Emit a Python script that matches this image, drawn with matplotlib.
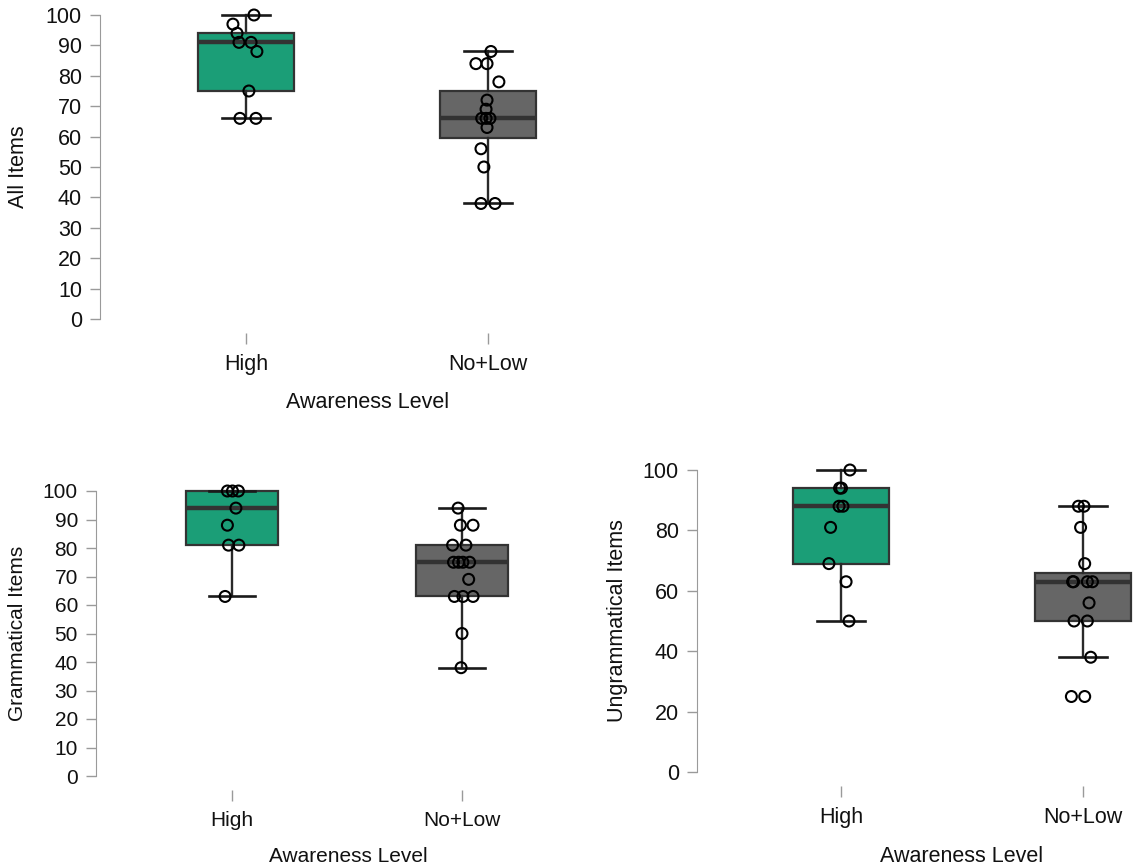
import matplotlib
matplotlib.use("Agg")
import matplotlib.pyplot as plt

plt.rcParams['font.family'] = ['Liberation Sans', 'DejaVu Sans']

W, H = 1135, 868
groups = ["High", "No+Low"]
box_colors = ["#1b9e77", "#666666"]

# box stats per group: whisker low, Q1, median, Q3, whisker high
all_stats = [[66, 75, 91, 94, 100], [38, 59.5, 66, 75, 88]]
gram_stats = [[63, 81, 94, 100, 100], [38, 63, 75, 81, 94]]
ungram_stats = [[50, 69, 88, 94, 100], [38, 50, 63, 66, 88]]

# individual scores (read from the jittered points)
all_high = [100, 97, 94, 91, 91, 88, 75, 66, 66]
all_high_jit = [0.033, -0.054, -0.037, -0.029, 0.021, 0.045, 0.012, -0.025, 0.041]
all_low = [88, 84, 84, 78, 72, 69, 66, 66, 66, 63, 56, 50, 38, 38]
all_low_jit = [0.012, -0.05, -0.004, 0.045, -0.004, -0.008, -0.026, -0.008, 0.008,
               -0.004, -0.029, -0.017, -0.029, 0.029]

gram_high = [100, 100, 100, 94, 88, 81, 81, 63]
gram_high_jit = [-0.02, 0.002, 0.028, 0.017, -0.02, -0.015, 0.03, -0.03]
gram_low = [94, 88, 88, 81, 81, 75, 75, 75, 75, 69, 63, 63, 63, 50, 38]
gram_low_jit = [-0.017, -0.007, 0.048, -0.041, 0.017, -0.037, -0.015, 0.004, 0.033,
                0.029, -0.033, 0.004, 0.048, 0.0, -0.004]

ungram_high = [100, 94, 94, 88, 88, 81, 69, 63, 50]
ungram_high_jit = [0.037, -0.006, 0.002, -0.008, 0.008, -0.043, -0.05, 0.021, 0.033]
ungram_low = [88, 88, 81, 69, 63, 63, 63, 63, 56, 50, 50, 38, 25, 25]
ungram_low_jit = [-0.019, 0.004, -0.01, 0.007, -0.043, -0.039, 0.018, 0.039, 0.025,
                  -0.037, 0.018, 0.032, -0.048, 0.007]

fig = plt.figure(figsize=(W / 100, H / 100), dpi=100)


def make_panel(left, right, top, bottom, cat0, cat1, stats, points, ylabel,
               yticks, ylab_x, xlab_x, xlab_y, fs):
    ax = fig.add_axes([left / W, 1 - bottom / H, (right - left) / W, (bottom - top) / H])
    step = cat1 - cat0
    ax.set_xlim((left - cat0) / step, (right - cat0) / step)
    ax.set_ylim(0, 100)

    bxp_stats = []
    for s in stats:
        bxp_stats.append(dict(whislo=s[0], q1=s[1], med=s[2], q3=s[3], whishi=s[4], fliers=[]))
    res = ax.bxp(bxp_stats, positions=[0, 1], widths=0.4, patch_artist=True,
                 showfliers=False, capwidths=0.2,
                 boxprops=dict(edgecolor="#333333", linewidth=1.6),
                 medianprops=dict(color="#333333", linewidth=3.2, solid_capstyle="butt"),
                 whiskerprops=dict(color="#2a2a2a", linewidth=1.7),
                 capprops=dict(color="#1a1a1a", linewidth=1.9))
    for patch, c in zip(res["boxes"], box_colors):
        patch.set_facecolor(c)
    for key in ["boxes", "medians", "whiskers", "caps"]:
        for art in res[key]:
            art.set_clip_on(False)

    for i, (vals, jit) in enumerate(points):
        xs = [i + j for j in jit]
        ax.scatter(xs, vals, s=62, facecolors="none", edgecolors="black",
                   linewidths=1.5, zorder=5, clip_on=False)

    for side in ["top", "right", "bottom"]:
        ax.spines[side].set_visible(False)
    ax.spines["left"].set_color("#9a9a9a")
    ax.spines["left"].set_bounds(0, 100)
    ax.spines["bottom"].set_position(("outward", 10))

    ax.set_yticks(yticks)
    ax.set_xticks([0, 1])
    ax.set_xticklabels(groups)
    ax.tick_params(axis="y", length=7, width=1, color="#9a9a9a", pad=6,
                   labelsize=fs, labelcolor="#111111")
    ax.tick_params(axis="x", length=8, width=1, color="#9a9a9a", pad=7,
                   labelsize=fs, labelcolor="#111111")

    ax.set_ylabel(ylabel, fontsize=fs, color="#111111")
    ax.set_xlabel("Awareness Level", fontsize=fs, color="#111111")
    ax.yaxis.label.set_va("center")
    ax.xaxis.label.set_va("center")
    ax.yaxis.set_label_coords((ylab_x - left) / (right - left), 0.5)
    ax.xaxis.set_label_coords((xlab_x - left) / (right - left), (bottom - xlab_y) / (bottom - top))
    return ax


make_panel(100, 640, 15, 319, 246, 488, all_stats,
           [(all_high, all_high_jit), (all_low, all_low_jit)],
           "All Items", list(range(0, 101, 10)), 18, 368, 403, 15.5)

make_panel(96, 580, 491, 776, 232, 462, gram_stats,
           [(gram_high, gram_high_jit), (gram_low, gram_low_jit)],
           "Grammatical Items", list(range(0, 101, 10)), 18, 348, 857, 15)

make_panel(697, 1135, 470, 772, 841, 1083, ungram_stats,
           [(ungram_high, ungram_high_jit), (ungram_low, ungram_low_jit)],
           "Ungrammatical Items", list(range(0, 101, 20)), 618, 962, 857, 15.5)

fig.savefig("out.png", dpi=100)
